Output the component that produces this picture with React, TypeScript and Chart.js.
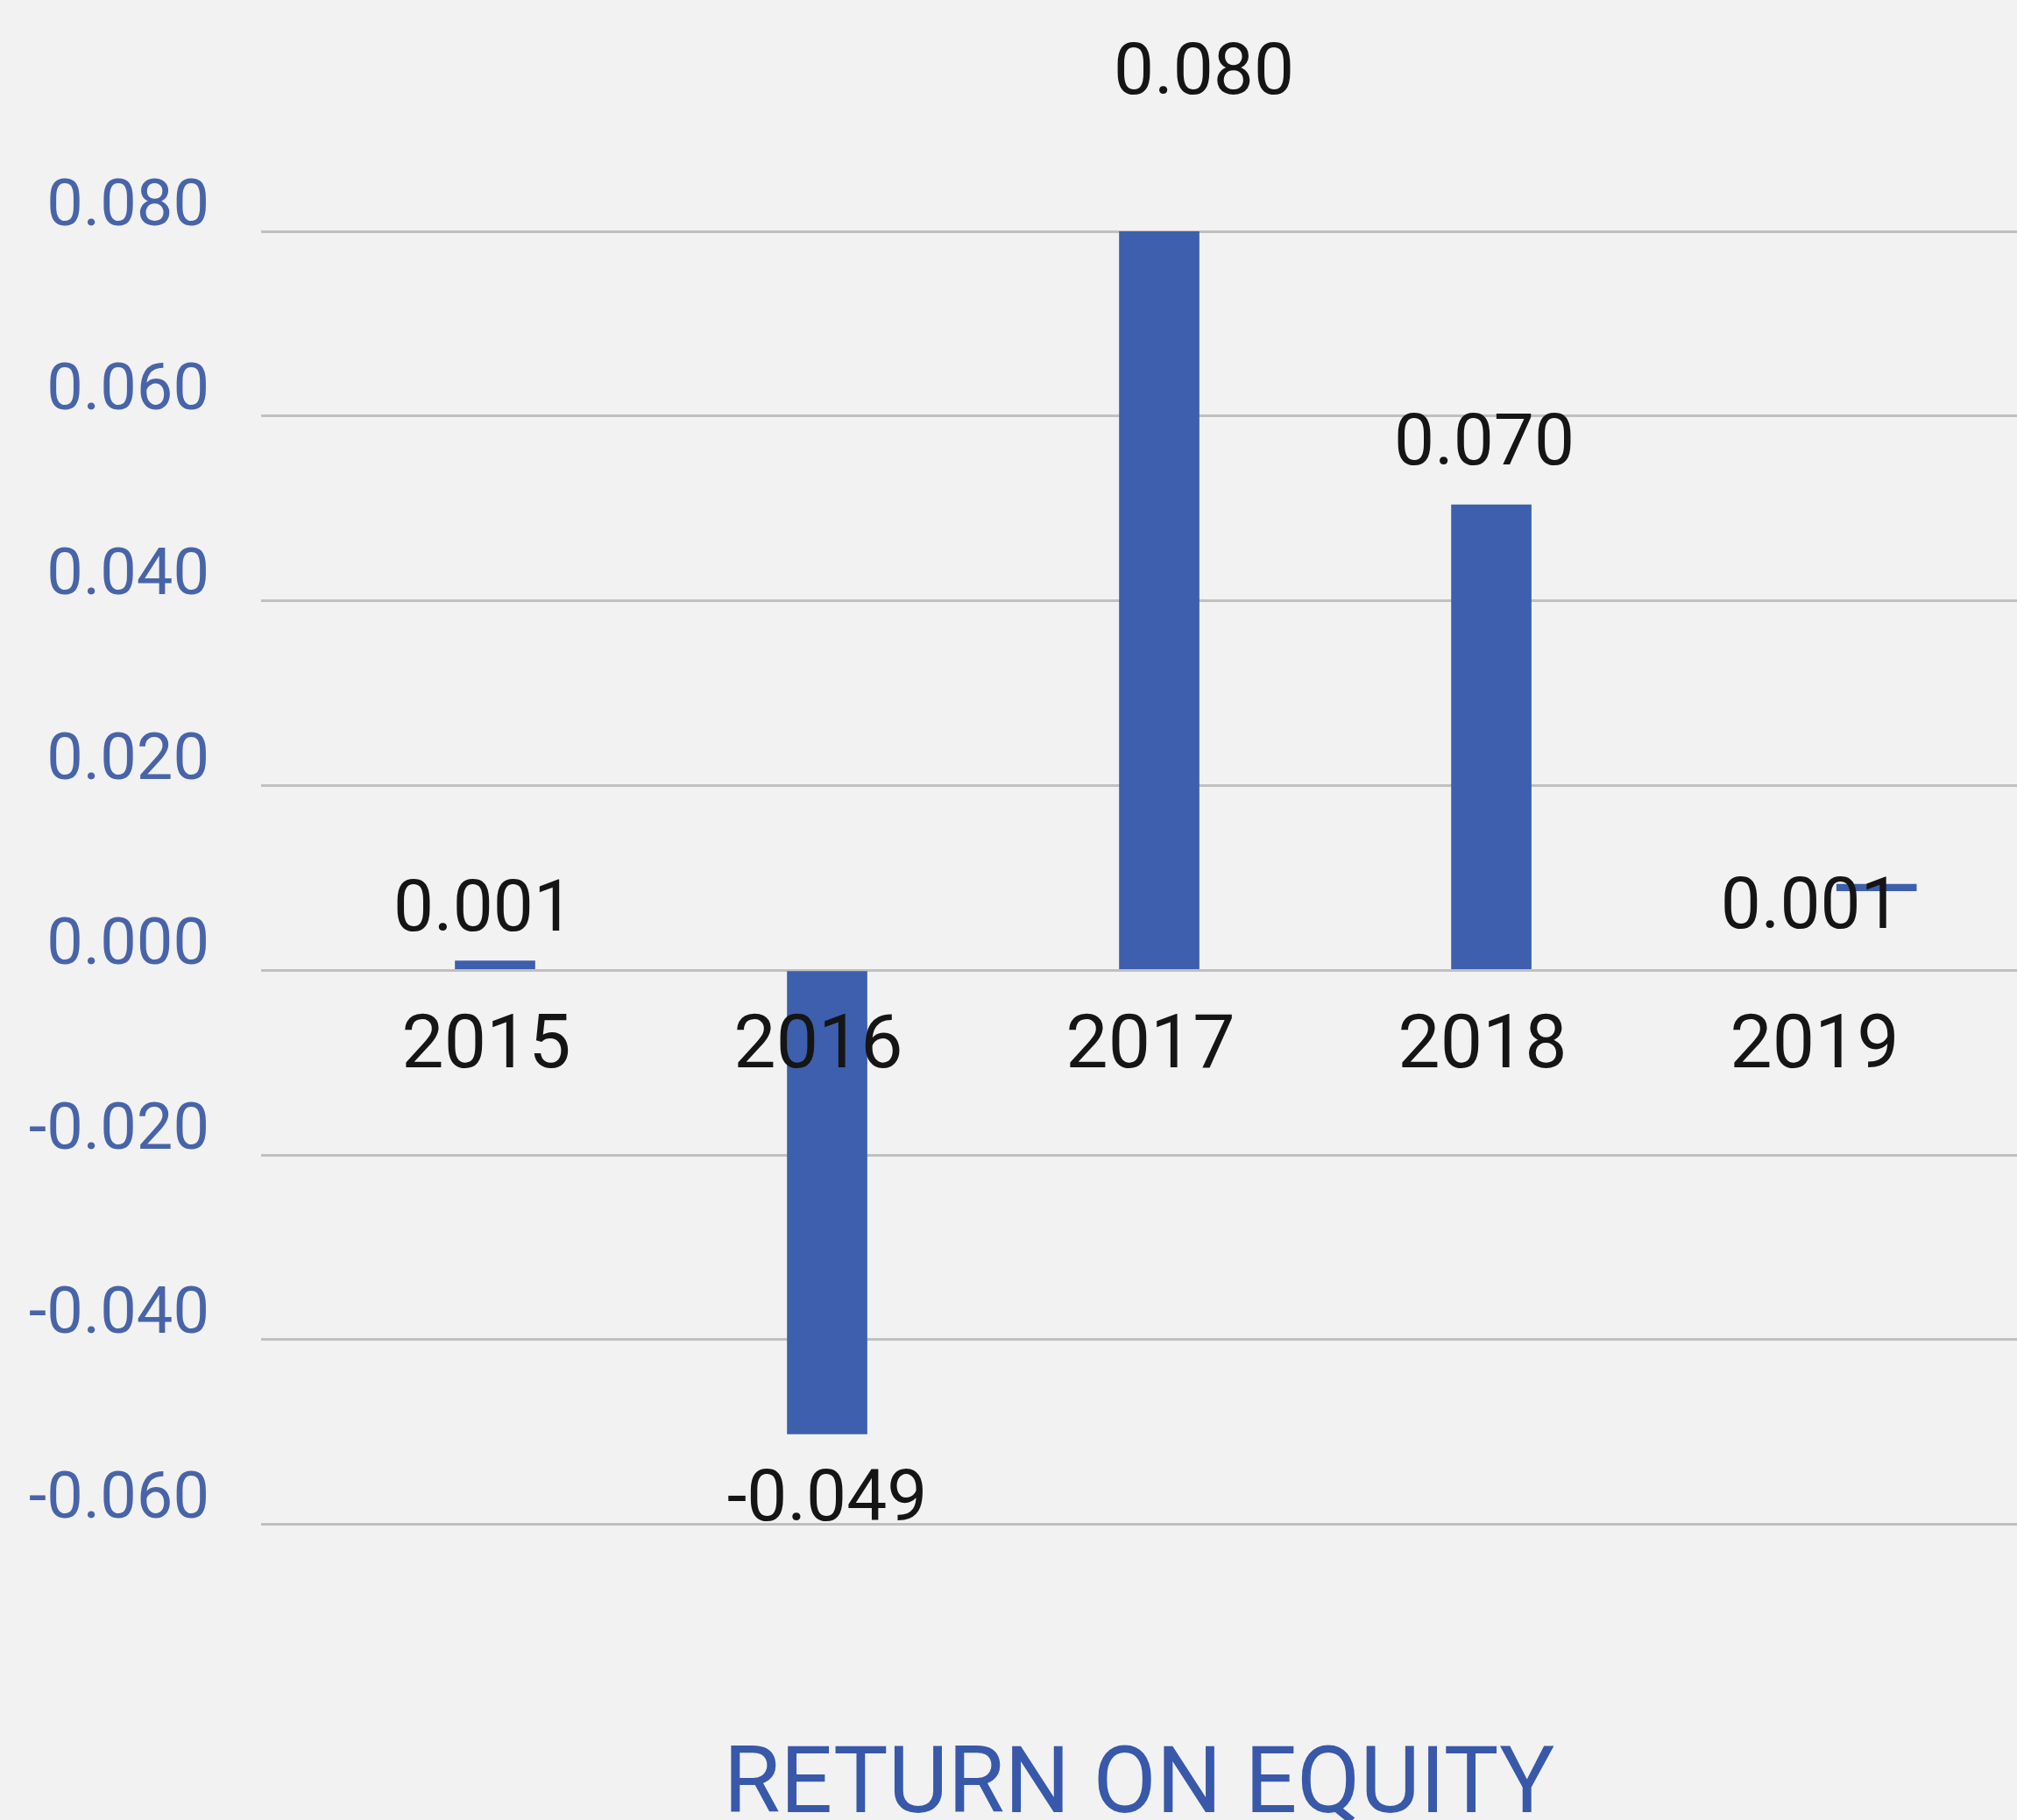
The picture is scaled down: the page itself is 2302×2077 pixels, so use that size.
import React, { useEffect, useRef } from "react";
import { Chart, registerables } from "chart.js";

Chart.register(...registerables);

// ---- data ----
const categories = ["2015", "2016", "2017", "2018", "2019"];
const barPositions = [0, 1, 2, 3, 4.16];
const barStarts = [0, 0, 0, 0, 0.0086];
const barEnds = [0.001, -0.0502, 0.08, 0.0504, 0.0093];
const valueLabels = ["0.001", "-0.049", "0.080", "0.070", "0.001"];
const yTicks = [-0.06, -0.04, -0.02, 0, 0.02, 0.04, 0.06, 0.08];
const chartTitle = "RETURN ON EQUITY";

// x range of the plot (in category index units)
const xMin = -0.7045;
const xMax = 4.583;

// label placement tweaks (pixels, relative to bar end)
const labelShiftX = [-13, 0, 51, -8, -75];
const labelShiftY = [-55, 78, -178, -66, 29];

const W = 2302;
const H = 2077;
const BG = "#f2f2f2";

export default function App() {
  const ref = useRef<HTMLCanvasElement | null>(null);

  useEffect(() => {
    document.body.style.margin = "0";
    const canvas = ref.current;
    if (!canvas) return;

    const data = barPositions.map((x, i) => ({
      x,
      y: barStarts[i] === 0 ? barEnds[i] : [barStarts[i], barEnds[i]],
    }));

    const bgPlugin = {
      id: "bg",
      beforeDraw(chart: any) {
        const c = chart.ctx;
        c.save();
        c.fillStyle = BG;
        c.fillRect(0, 0, chart.width, chart.height);
        c.restore();
      },
    };

    const labelPlugin = {
      id: "valueLabels",
      afterDatasetsDraw(chart: any) {
        const c = chart.ctx;
        const meta = chart.getDatasetMeta(0);
        c.save();
        c.font = "400 82px Roboto";
        c.fillStyle = "#151515";
        c.textAlign = "center";
        c.textBaseline = "middle";
        meta.data.forEach((el: any, i: number) => {
          c.fillText(valueLabels[i], el.x + labelShiftX[i], el.y + labelShiftY[i]);
        });
        c.restore();
      },
    };

    const chart = new Chart(canvas, {
      type: "bar",
      data: {
        datasets: [
          {
            data: data as any,
            backgroundColor: "#3d5fad",
            borderWidth: 0,
            barThickness: 91,
          },
        ],
      },
      options: {
        responsive: false,
        animation: false,
        devicePixelRatio: 1,
        layout: { padding: { top: 264, left: 0, right: 0, bottom: 0 } },
        plugins: {
          legend: { display: false },
          tooltip: { enabled: false },
          title: {
            display: true,
            text: chartTitle,
            position: "bottom",
            fullSize: false,
            color: "#3858aa",
            font: { family: "Roboto", size: 105, weight: "400", lineHeight: 0.68 },
            padding: { top: 266, bottom: 0 },
          },
        },
        scales: {
          x: {
            type: "linear",
            position: { y: 0 } as any,
            offset: false,
            bounds: "data",
            min: xMin,
            max: xMax,
            afterDataLimits: (s: any) => {
              s.min = xMin;
              s.max = xMax;
            },
            afterBuildTicks: (s: any) => {
              s.ticks = categories.map((_, i) => ({ value: i }));
            },
            afterFit: (s: any) => {
              s.paddingLeft = 0;
              s.paddingRight = 0;
            },
            grid: { display: false, drawTicks: false, offset: false },
            border: { display: false },
            ticks: {
              z: 1,
              color: "#151515",
              font: { family: "Roboto", size: 86 },
              padding: 38,
              labelOffset: -10,
              maxRotation: 0,
              autoSkip: false,
              callback: (v: any) => categories[Math.round(Number(v))] ?? "",
            },
          },
          y: {
            type: "linear",
            min: -0.06,
            max: 0.08,
            afterBuildTicks: (s: any) => {
              s.ticks = yTicks.map((v) => ({ value: v }));
            },
            afterFit: (s: any) => {
              s.width = 298;
            },
            grid: { color: "#c0c0c0", lineWidth: 3, drawTicks: false },
            border: { display: false },
            ticks: {
              color: "#4864a9",
              font: { family: "Roboto", size: 74 },
              padding: 59,
              labelOffset: -26,
              callback: (v: any) => {
                const n = Number(v);
                return Math.abs(n) < 1e-9 ? "0.000" : n.toFixed(3);
              },
            },
          },
        },
      },
      plugins: [bgPlugin, labelPlugin],
    });

    return () => chart.destroy();
  }, []);

  return (
    <div
      style={{
        position: "fixed",
        left: 0,
        top: 0,
        width: W,
        height: H,
        background: BG,
        overflow: "hidden",
      }}
    >
      <canvas ref={ref} width={W} height={H} style={{ display: "block" }} />
    </div>
  );
}
